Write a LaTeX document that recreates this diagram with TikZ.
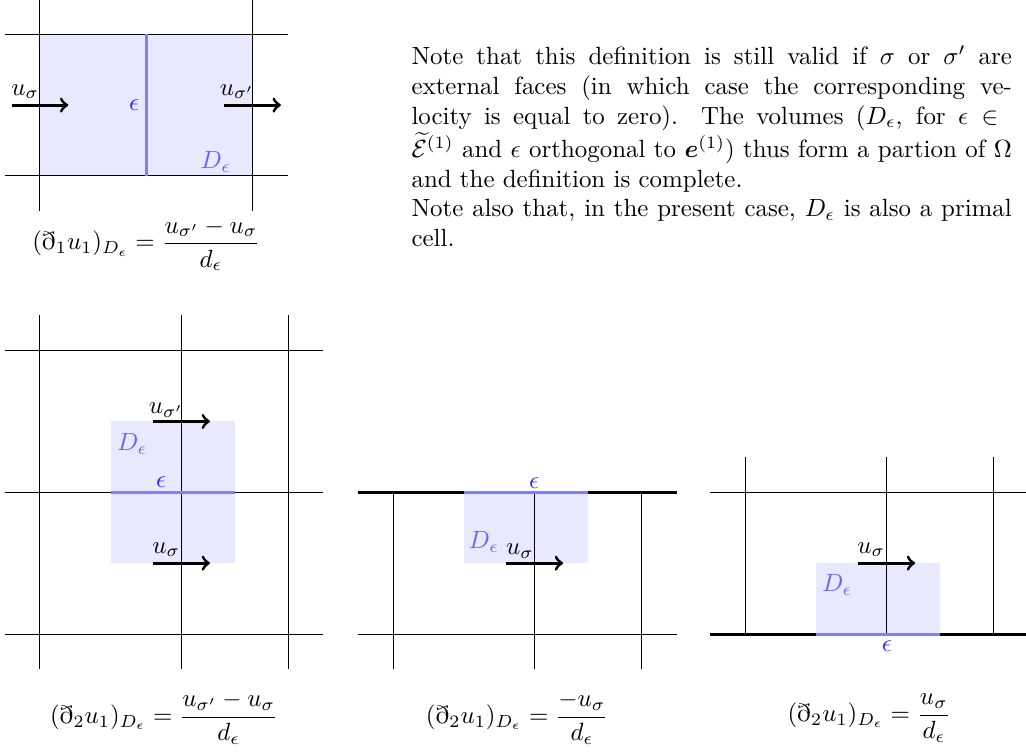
\documentclass[tikz,border=0pt]{standalone}
\usepackage{amsmath,amssymb,bm}

\begin{document}
\begin{tikzpicture}[line width=0.4pt,
  dualcell/.style={fill=blue!9},
  boundary/.style={line width=1.2pt},
  face/.style={blue!50,line width=1.2pt},
  vel/.style={->,line width=1.2pt},
  dlab/.style={blue!60},
  elab/.style={blue!85}]
  \useasboundingbox (0,0) rectangle (14.477,10.597);

  % horizontal derivative, interior face
  \begin{scope}[shift={(0.564,8.114)}]
    \fill[dualcell] (0,0) rectangle (3,2);
    \foreach \x in {0,3} \draw (\x,-0.5) -- (\x,2.5);
    \foreach \y in {0,2} \draw (-0.5,\y) -- (3.5,\y);
    \draw[face] (1.5,0) -- (1.5,2);
    \node[elab] (eps1) at (1.33,1) {$\epsilon$};
    \node[dlab] (D1) at (2.48,0.2) {$D_\epsilon$};
    \coordinate (a1) at (-0.4,1); \coordinate (b1) at (0.4,1);
    \coordinate (a2) at (2.6,1);  \coordinate (b2) at (3.4,1);
    \draw[vel] (a1) -- (b1);
    \draw[vel] (a2) -- (b2);
    \node (u1) at (-0.21,1.19) {$u_\sigma$};
    \node (u2) at (2.78,1.19) {$u_{\sigma'}$};
    \node (f1) at (1.5,-0.97) {$(\eth_1 u_1)_{D_\epsilon} = \dfrac{u_{\sigma'}-u_\sigma}{d_\epsilon}$};
  \end{scope}

  % text
  \node[anchor=north west,inner sep=0pt,text width=241pt,align=justify] (note) at (5.80,9.96)
    {Note that this definition is still valid if $\sigma$ or $\sigma'$ are\linebreak
    external faces (in which case the corresponding ve-\linebreak
    locity is equal to zero). The volumes ($D_\epsilon$, for $\epsilon\in{}$\linebreak
    $\widetilde{\mathcal{E}}^{(1)}$ and $\epsilon$ orthogonal to $\bm{e}^{(1)}$) thus form a partion of $\Omega$\linebreak
    and the definition is complete.\par
    Note also that, in the present case, $D_\epsilon$ is also a primal\linebreak
    cell.};

  % vertical derivative, interior face
  \begin{scope}[shift={(0.564,1.651)}]
    \fill[dualcell] (1,1) rectangle (2.75,3);
    \foreach \x in {0,2,3.5} \draw (\x,-0.5) -- (\x,4.5);
    \foreach \y in {0,2,4} \draw (-0.5,\y) -- (4,\y);
    \draw[face] (1,2) -- (2.75,2);
    \node[elab] (eps2) at (1.71,2.14) {$\epsilon$};
    \node[dlab] (D2) at (1.30,2.68) {$D_\epsilon$};
    \coordinate (a3) at (1.6,3); \coordinate (b3) at (2.4,3);
    \coordinate (a4) at (1.6,1); \coordinate (b4) at (2.4,1);
    \draw[vel] (a3) -- (b3);
    \draw[vel] (a4) -- (b4);
    \node (u3) at (1.78,3.16) {$u_{\sigma'}$};
    \node (u4) at (1.78,1.19) {$u_\sigma$};
    \node (f2) at (1.75,-1.185) {$(\eth_2 u_1)_{D_\epsilon} = \dfrac{u_{\sigma'}-u_\sigma}{d_\epsilon}$};
  \end{scope}

  % vertical derivative, top boundary
  \begin{scope}[shift={(5.546,1.651)}]
    \fill[dualcell] (1,1) rectangle (2.75,2);
    \foreach \x in {0,2,3.5} \draw (\x,-0.5) -- (\x,2);
    \draw (-0.5,0) -- (4,0);
    \draw[boundary] (-0.5,2) -- (4,2);
    \draw[face] (1,2) -- (2.75,2);
    \node[elab] (eps3) at (1.99,2.13) {$\epsilon$};
    \node[dlab] (D3) at (1.28,1.30) {$D_\epsilon$};
    \coordinate (a5) at (1.6,1); \coordinate (b5) at (2.4,1);
    \draw[vel] (a5) -- (b5);
    \node (u5) at (1.79,1.17) {$u_\sigma$};
    \node (f3) at (1.75,-1.185) {$(\eth_2 u_1)_{D_\epsilon} = \dfrac{-u_\sigma}{d_\epsilon}$};
  \end{scope}

  % vertical derivative, bottom boundary
  \begin{scope}[shift={(10.513,1.651)}]
    \fill[dualcell] (1,0) rectangle (2.75,1);
    \foreach \x in {0,2,3.5} \draw (\x,0) -- (\x,2.5);
    \draw (-0.5,2) -- (4,2);
    \draw[boundary] (-0.5,0) -- (4,0);
    \draw[face] (1,0) -- (2.75,0);
    \node[elab] (eps4) at (2.0,-0.17) {$\epsilon$};
    \node[dlab] (D4) at (1.30,0.69) {$D_\epsilon$};
    \coordinate (a6) at (1.6,1); \coordinate (b6) at (2.4,1);
    \draw[vel] (a6) -- (b6);
    \node (u6) at (1.78,1.19) {$u_\sigma$};
    \node (f4) at (1.75,-1.185) {$(\eth_2 u_1)_{D_\epsilon} = \dfrac{u_\sigma}{d_\epsilon}$};
  \end{scope}
\end{tikzpicture}
\end{document}
